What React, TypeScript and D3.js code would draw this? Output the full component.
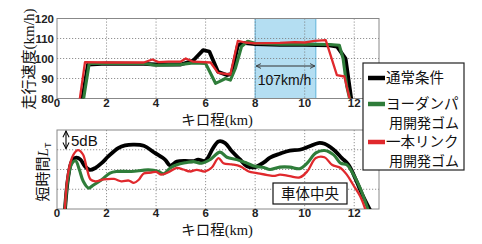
import React from "react";
import * as d3 from "d3";

const xTicks = [0, 2, 4, 6, 8, 10, 12];
const speedTicks = [80, 90, 100, 110, 120];
const levelGrid = [5, 10, 15];

const seriesNames = ["通常条件", "ヨーダンパ", "一本リンク"];
const seriesSub = ["", "用開発ゴム", "用開発ゴム"];
const seriesColors = ["#000000", "#2f7d3a", "#e0292d"];
const seriesWidths = [3.8, 3.1, 2.3];

const speedNormal: [number, number][] = [
  [1.0, 78], [1.25, 97], [2, 97.5], [3.5, 97.3], [4, 97], [4.5, 97], [5, 97], [5.5, 99],
  [5.9, 104.2], [6.15, 103.5], [6.5, 93.4], [6.85, 91.7], [7.05, 92.3], [7.3, 106.5],
  [7.5, 107.8], [8, 107.2], [9, 106.8], [10, 106.8], [11, 106.6], [11.3, 106],
  [11.5, 102.6], [11.65, 100], [11.9, 78],
];
const speedDamper: [number, number][] = [
  [1.05, 78], [1.3, 97.5], [3.5, 97.5], [4, 96.6], [4.5, 96.8], [5, 97], [5.5, 97.8],
  [6.0, 97.5], [6.4, 87.6], [6.55, 88.4], [6.8, 90], [7.0, 89.2], [7.2, 95], [7.45, 106],
  [7.7, 108.6], [8, 107.6], [9, 107.2], [10, 107.2], [11, 107], [11.4, 106.6],
  [11.55, 100], [11.7, 86], [11.85, 78],
];
const speedLink: [number, number][] = [
  [0.9, 78], [1.13, 98.2], [2, 98], [3.5, 98], [3.85, 99.5], [4.1, 98.2], [4.5, 98.4],
  [5, 98.5], [5.2, 100], [5.5, 98.4], [6.2, 98], [6.5, 92.8], [7.0, 92], [7.3, 108.8],
  [7.6, 108], [8, 107.6], [9, 107.8], [9.6, 108.2], [10, 108], [10.4, 108.8],
  [10.85, 109.2], [11.05, 101.4], [11.3, 91.7], [11.6, 91], [11.85, 78],
];

const levelNormal: [number, number][] = [
  [0.3, -2], [0.45, 8], [0.6, 12.1], [0.78, 13], [0.95, 12.5], [1.13, 10.8], [1.33, 9.9],
  [1.55, 10.4], [1.8, 11.6], [2.07, 13.3], [2.47, 15.4], [2.75, 16.1], [3.1, 16.3],
  [3.5, 16.0], [3.95, 14.2], [4.36, 12.5], [4.57, 11.0], [4.84, 12.0], [5.17, 12.2],
  [5.5, 12.1], [5.7, 12.5], [5.98, 12.2], [6.3, 15.4], [6.52, 17.1], [6.79, 16.7],
  [7.06, 14.6], [7.4, 12.5], [7.67, 10.8], [8.0, 10.6], [8.35, 11.8], [8.6, 13.0],
  [9.0, 14.0], [9.4, 14.8], [9.8, 15.0], [10.2, 15.9], [10.55, 16.7], [10.8, 16.5],
  [11.17, 15.0], [11.5, 12.9], [11.77, 11.2], [12.04, 7.8], [12.3, 4.0], [12.7, -1],
];
const levelDamper: [number, number][] = [
  [0.3, -2], [0.45, 8], [0.6, 11.5], [0.75, 12.2], [0.9, 10], [1.06, 7.0], [1.27, 5.3],
  [1.46, 6.0], [1.8, 7.4], [2.14, 9.1], [2.4, 9.5], [3.0, 9.5], [3.69, 9.9], [4.1, 9.5],
  [4.3, 8.9], [4.57, 10.4], [4.84, 11.2], [5.17, 11.7], [5.5, 12.0], [5.84, 11.6],
  [6.18, 12.5], [6.58, 14.4], [6.86, 13.1], [7.26, 12.5], [7.67, 11.6], [8.0, 10.8],
  [8.35, 10.5], [8.6, 10.0], [9.0, 10.6], [9.4, 10.6], [9.8, 10.2], [10.1, 11.6],
  [10.45, 14.2], [10.8, 14.8], [11.17, 13.7], [11.45, 11.6], [11.7, 11.2], [11.9, 9.5],
  [12.24, 5.3], [12.6, -1],
];
const levelLink: [number, number][] = [
  [0.3, -2], [0.46, 9.5], [0.66, 13.7], [0.85, 14.9], [1.05, 13.8], [1.2, 10.4],
  [1.35, 7.5], [1.55, 7.0], [1.9, 7.5], [2.3, 7.6], [2.6, 7.0], [2.9, 7.2], [3.1, 6.6],
  [3.3, 7.4], [3.5, 9.0], [3.8, 9.2], [4.0, 9.4], [4.2, 8.7], [4.5, 9.3], [4.84, 10.4],
  [5.1, 10.0], [5.37, 9.5], [5.64, 9.9], [5.98, 9.5], [6.25, 10.5], [6.52, 12.9],
  [6.72, 11.6], [7.06, 11.3], [7.4, 10.8], [7.74, 9.5], [8.07, 9.1], [8.5, 8.6],
  [8.8, 8.4], [9.0, 8.7], [9.4, 8.3], [9.8, 8.0], [10.1, 9.5], [10.45, 12.9],
  [10.8, 13.1], [11.1, 11.2], [11.45, 10.4], [11.7, 8.7], [11.95, 6.2], [12.24, 3.2],
  [12.5, -1],
];

const speedSeries = [speedNormal, speedDamper, speedLink];
const levelSeries = [levelNormal, levelDamper, levelLink];
const bandRange = [8, 10.45];
const bandLabel = "107km/h";

const L = 57, R = 379;
const x = d3.scaleLinear().domain([0, 13]).range([L, R]);
const yTop = d3.scaleLinear().domain([80, 120]).range([98.5, 18.5]);
const yBot = d3.scaleLinear().domain([0, 20]).range([209, 130]);

const jp = "'Noto Sans CJK JP', 'Noto Sans', sans-serif";
const num = "'Liberation Sans', Arial, sans-serif";
const serif = "'Liberation Serif', 'DejaVu Serif', serif";

export default function App() {
  const lineTop = d3.line<[number, number]>().x(d => x(d[0])).y(d => yTop(d[1]));
  const lineBot = d3
    .line<[number, number]>()
    .x(d => x(d[0]))
    .y(d => yBot(d[1]))
    .curve(d3.curveCatmullRom.alpha(0.5));

  const drawOrder = [0, 1, 2];
  const legendY = [78, 104, 142];
  const legendSubY = [0, 128, 166];

  return (
    <svg
      width={482}
      height={244}
      style={{ position: "absolute", left: 0, top: 0, background: "#fff" }}
    >
      <defs>
        <clipPath id="cTop">
          <rect x={L} y={yTop(120)} width={R - L} height={yTop(80) - yTop(120)} />
        </clipPath>
        <clipPath id="cBot">
          <rect x={L} y={yBot(20)} width={R - L} height={yBot(0) - yBot(20)} />
        </clipPath>
        <marker id="ah" viewBox="0 0 10 10" refX="9" refY="5" markerWidth="6" markerHeight="6" orient="auto-start-reverse">
          <path d="M1,1 L9,5 L1,9" fill="none" stroke="#333" strokeWidth="1.5" />
        </marker>
        <marker id="ah2" viewBox="0 0 10 10" refX="9" refY="5" markerWidth="7" markerHeight="7" orient="auto-start-reverse">
          <path d="M1,1 L9,5 L1,9" fill="none" stroke="#000" strokeWidth="1.3" />
        </marker>
      </defs>

      {/* top plot */}
      <rect
        x={x(bandRange[0])}
        y={yTop(120)}
        width={x(bandRange[1]) - x(bandRange[0])}
        height={yTop(80) - yTop(120)}
        fill="#b4def2"
        stroke="#5fb2da"
        strokeWidth={1}
      />
      {xTicks.slice(1).map(t => (
        <line key={"gvt" + t} x1={x(t)} x2={x(t)} y1={yTop(120)} y2={yTop(80)} stroke="#777" strokeWidth={0.8} strokeDasharray="1.2,1.8" />
      ))}
      {speedTicks.slice(1, -1).map(t => (
        <line key={"ght" + t} x1={L} x2={R} y1={yTop(t)} y2={yTop(t)} stroke="#777" strokeWidth={0.8} strokeDasharray="1.2,1.8" />
      ))}
      <rect x={L} y={yTop(120)} width={R - L} height={yTop(80) - yTop(120)} fill="none" stroke="#888" strokeWidth={1} />
      <g clipPath="url(#cTop)">
        {drawOrder.map(i => (
          <path key={"st" + i} d={lineTop(speedSeries[i]) || ""} fill="none" stroke={seriesColors[i]} strokeWidth={seriesWidths[i]} strokeLinejoin="round" />
        ))}
      </g>
      <line x1={x(bandRange[0]) + 1} x2={x(bandRange[1]) - 1} y1={66} y2={66} stroke="#333" strokeWidth={1} markerStart="url(#ah)" markerEnd="url(#ah)" />
      <text x={(x(bandRange[0]) + x(bandRange[1])) / 2 - 1} y={85} textAnchor="middle" fontFamily={num} fontSize={14} fill="#111">
        {bandLabel}
      </text>
      {xTicks.map(t => (
        <text key={"xt" + t} x={x(t)} y={107} textAnchor="middle" fontFamily={num} fontSize={11.5} fontWeight={600} fill="#222">
          {t}
        </text>
      ))}
      {speedTicks.map(t => (
        <text key={"yt" + t} x={54} y={yTop(t) + 4} textAnchor="end" fontFamily={num} fontSize={11.5} fontWeight={600} fill="#222">
          {t}
        </text>
      ))}
      <text x={217} y={124.5} textAnchor="middle" fontFamily={jp} fontSize={14.5} fill="#111">
        キロ程<tspan fontFamily={serif}>(km)</tspan>
      </text>
      <text transform="translate(33.5,59) rotate(-90)" textAnchor="middle" fontFamily={jp} fontSize={15} fill="#111">
        走行速度<tspan fontFamily={serif}>(km/h)</tspan>
      </text>

      {/* bottom plot */}
      {xTicks.slice(1).map(t => (
        <line key={"gvb" + t} x1={x(t)} x2={x(t)} y1={yBot(20)} y2={yBot(0)} stroke="#777" strokeWidth={0.8} strokeDasharray="1.2,1.8" />
      ))}
      {levelGrid.map(t => (
        <line key={"ghb" + t} x1={L} x2={R} y1={yBot(t)} y2={yBot(t)} stroke="#777" strokeWidth={0.8} strokeDasharray="1.2,1.8" />
      ))}
      <rect x={L} y={yBot(20)} width={R - L} height={yBot(0) - yBot(20)} fill="none" stroke="#888" strokeWidth={1} />
      <g clipPath="url(#cBot)">
        {drawOrder.map(i => (
          <path key={"sb" + i} d={lineBot(levelSeries[i]) || ""} fill="none" stroke={seriesColors[i]} strokeWidth={seriesWidths[i]} strokeLinejoin="round" />
        ))}
      </g>
      <line x1={66} x2={66} y1={yBot(20) + 1} y2={yBot(15) - 1} stroke="#000" strokeWidth={1.1} markerStart="url(#ah2)" markerEnd="url(#ah2)" />
      <text x={71} y={146} fontFamily={num} fontSize={15} fill="#111">5dB</text>
      <rect x={273} y={183} width={74} height={21} fill="#fff" stroke="#111" strokeWidth={1.2} />
      <text x={310} y={199} textAnchor="middle" fontFamily={jp} fontSize={14.5} fill="#111">車体中央</text>
      {xTicks.map(t => (
        <text key={"xb" + t} x={x(t)} y={217} textAnchor="middle" fontFamily={num} fontSize={11.5} fontWeight={600} fill="#222">
          {t}
        </text>
      ))}
      <text x={217} y={234.5} textAnchor="middle" fontFamily={jp} fontSize={14.5} fill="#111">
        キロ程<tspan fontFamily={serif}>(km)</tspan>
      </text>
      <text transform="translate(48,172) rotate(-90)" textAnchor="middle" fontFamily={jp} fontSize={15} fill="#111">
        短時間<tspan fontFamily={serif} fontStyle="italic">L</tspan>
        <tspan fontFamily={num} fontSize={9} dy={3}>T</tspan>
      </text>

      {/* legend */}
      <rect x={363} y={63} width={101} height={107} fill="#fff" stroke="#222" strokeWidth={1.2} />
      {[0, 1, 2].map(i => {
        const yy = legendY[i];
        return (
          <g key={"lg" + i}>
            <line x1={368} x2={385} y1={yy} y2={yy} stroke={seriesColors[i]} strokeWidth={4.5} />
            <text x={386} y={yy + 5} fontFamily={jp} fontSize={14.5} fill="#111">{seriesNames[i]}</text>
            {seriesSub[i] && (
              <text x={389} y={legendSubY[i]} fontFamily={jp} fontSize={14} fill="#111">{seriesSub[i]}</text>
            )}
          </g>
        );
      })}
    </svg>
  );
}
